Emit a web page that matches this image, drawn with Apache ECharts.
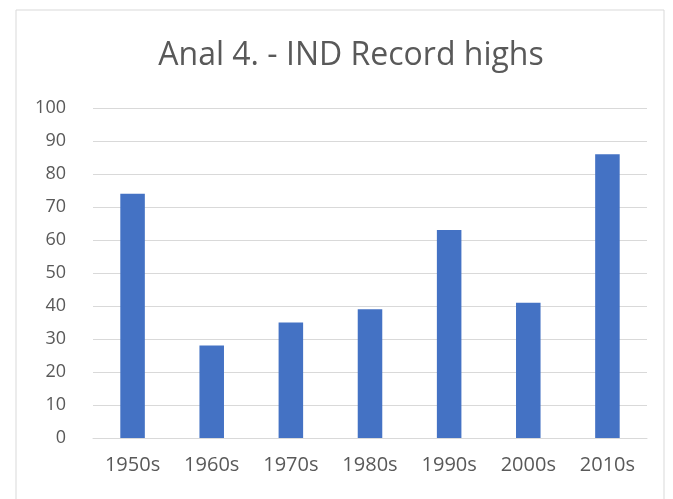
<!DOCTYPE html>
<html>
<head>
<meta charset="utf-8">
<script src="https://cdn.jsdelivr.net/npm/echarts@6/dist/echarts.min.js"></script>
<style>
  html, body { margin: 0; padding: 0; background: #fff; }
  #chart { width: 673px; height: 499px; }
</style>
</head>
<body>
<div id="chart"></div>
<script>
// data
const decades = ["1950s", "1960s", "1970s", "1980s", "1990s", "2000s", "2010s"];
const recordHighs = [74, 28, 35, 39, 63, 41, 86];
const yTicks = { min: 0, max: 100, step: 10 };

const myChart = echarts.init(document.getElementById("chart"));
const option = {
  backgroundColor: "#fff",
  animation: false,
  title: {
    text: "Anal 4. - IND Record highs",
    left: 346,
    top: 35,
    textAlign: "center",
    textStyle: {
      fontFamily: "Open Sans",
      fontSize: 32,
      fontWeight: "normal",
      color: "#595959",
    },
  },
  // faint chart-area frame like the spreadsheet object
  graphic: [
    {
      type: "rect",
      shape: { x: 16, y: 10, width: 648, height: 500 },
      style: { fill: "none", stroke: "#d9d9d9", lineWidth: 1 },
      silent: true,
    },
  ],
  grid: { left: 93, right: 26, top: 108, bottom: 61 },
  xAxis: {
    type: "category",
    data: decades,
    axisTick: { show: false },
    axisLine: { lineStyle: { color: "#d9d9d9", width: 1 } },
    axisLabel: {
      fontFamily: "Open Sans",
      fontSize: 20,
      color: "#595959",
      margin: 17,
    },
  },
  yAxis: {
    type: "value",
    min: yTicks.min,
    max: yTicks.max,
    interval: yTicks.step,
    axisLine: { show: false },
    axisTick: { show: false },
    splitLine: { lineStyle: { color: "#d9d9d9", width: 1 } },
    axisLabel: {
      fontFamily: "Open Sans",
      fontSize: 18,
      color: "#595959",
      margin: 27,
    },
  },
  series: [
    {
      name: "Record highs",
      type: "bar",
      data: recordHighs,
      barWidth: "31%",
      itemStyle: { color: "#4472C4" },
    },
  ],
};
myChart.setOption(option);
</script>
</body>
</html>
